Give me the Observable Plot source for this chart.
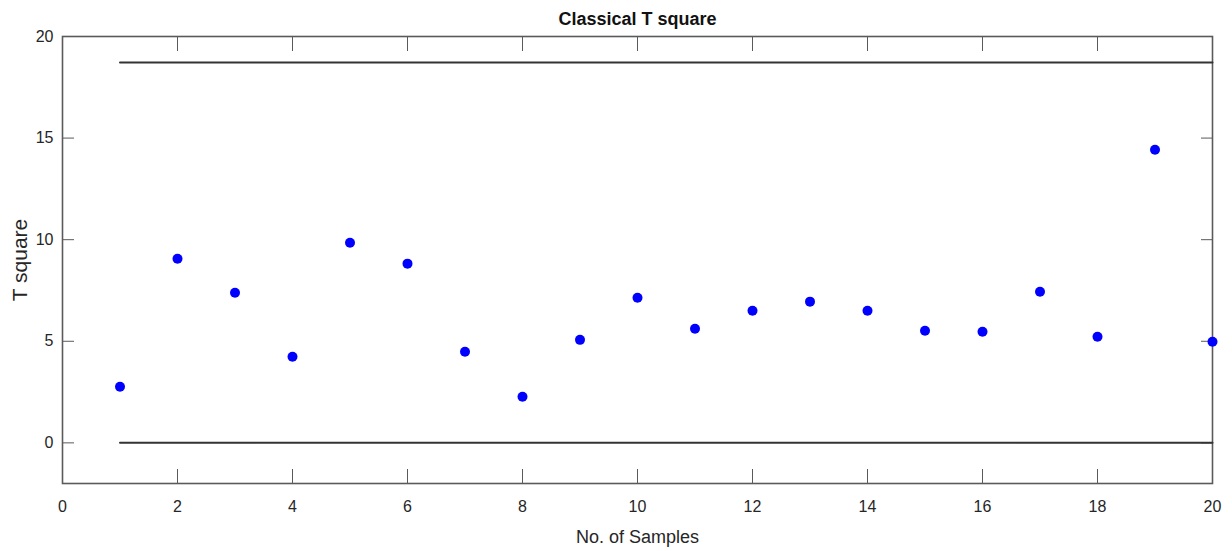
<!DOCTYPE html>
<html><head><meta charset="utf-8">
<script src="https://cdn.jsdelivr.net/npm/d3@7"></script>
<script src="https://cdn.jsdelivr.net/npm/@observablehq/plot@0.6"></script>
<style>body{margin:0;background:#fff}</style>
</head><body><div id="chart"></div>
<script>
const samples = [1,2,3,4,5,6,7,8,9,10,11,12,13,14,15,16,17,18,19,20];
const tSquare = [2.76,9.06,7.39,4.24,9.85,8.82,4.48,2.27,5.07,7.14,5.62,6.50,6.95,6.50,5.52,5.47,7.44,5.22,14.43,4.98];
const limitX = [1, 20];
const ucl = 18.72;
const lcl = 0;
const xTicks = [0,2,4,6,8,10,12,14,16,18,20];
const yTicks = [0,5,10,15,20];
const title = "Classical T square";
const xLabel = "No. of Samples";
const yLabel = "T square";

const points = samples.map((s, i) => ({x: s, y: tSquare[i]}));
const uclLine = limitX.map(x => ({x, y: ucl}));
const lclLine = limitX.map(x => ({x, y: lcl}));

const axisColor = "#5a5a5a";
const textColor = "#262626";

const chart = Plot.plot({
  width: 1232,
  height: 551,
  marginLeft: 62,
  marginRight: 20,
  marginTop: 36,
  marginBottom: 68,
  style: {fontFamily: "'Liberation Sans', Arial, sans-serif", fontSize: "16px", color: textColor, background: "#fff", overflow: "visible"},
  x: {domain: [0, 20]},
  y: {domain: [-2, 20]},
  marks: [
    Plot.axisX(xTicks, {anchor: "bottom", tickSize: -14, tickPadding: 31, stroke: axisColor, fill: textColor, label: null}),
    Plot.axisX(xTicks, {anchor: "top", tickSize: -14, tickFormat: () => "", stroke: axisColor, label: null}),
    Plot.axisY(yTicks, {anchor: "left", tickSize: -12, tickPadding: 21, stroke: axisColor, fill: textColor, label: null}),
    Plot.axisY(yTicks, {anchor: "right", tickSize: -12, tickFormat: () => "", stroke: axisColor, label: null}),
    Plot.frame({stroke: axisColor, strokeWidth: 1.6}),
    Plot.line(uclLine, {x: "x", y: "y", stroke: "#333", strokeWidth: 2}),
    Plot.line(lclLine, {x: "x", y: "y", stroke: "#333", strokeWidth: 2}),
    Plot.dot(points, {x: "x", y: "y", r: 5, fill: "#0000ff", stroke: "none"}),
    Plot.text([title], {frameAnchor: "top", dy: -17, lineAnchor: "middle", textAnchor: "middle", fontWeight: "bold", fontSize: 18, fill: "#111"}),
    Plot.text([xLabel], {frameAnchor: "bottom", dy: 54, lineAnchor: "middle", textAnchor: "middle", fontSize: 18, fill: textColor}),
    Plot.text([yLabel], {frameAnchor: "left", dx: -42, rotate: -90, lineAnchor: "middle", textAnchor: "middle", fontSize: 21, fill: textColor})
  ]
});
document.getElementById("chart").appendChild(chart);
</script>
</body></html>
